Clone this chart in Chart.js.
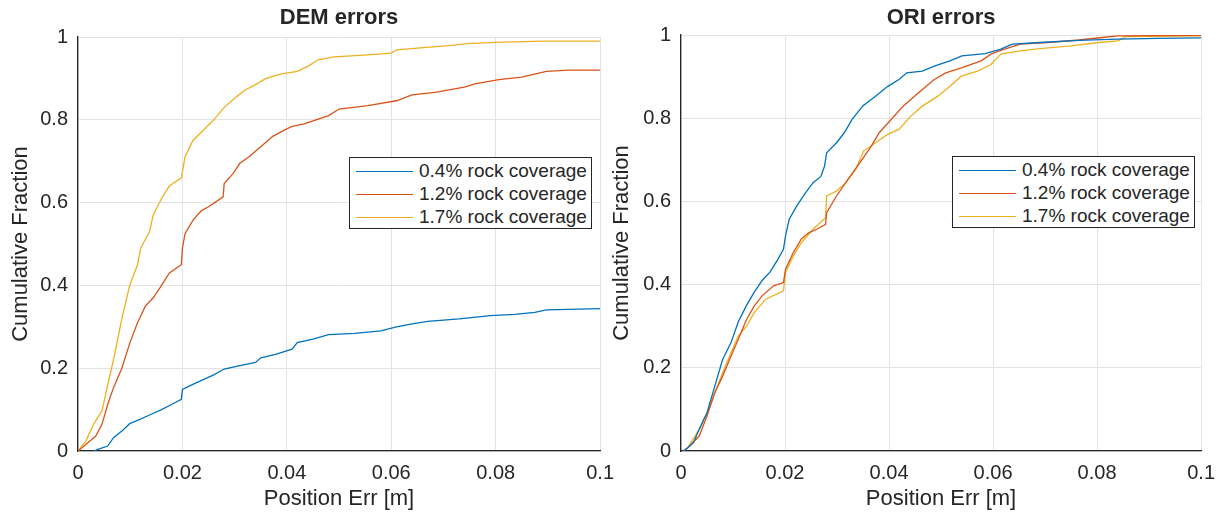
<!DOCTYPE html>
<html>
<head>
<meta charset="utf-8">
<script src="https://cdn.jsdelivr.net/npm/chart.js@4"></script>
<style>
    body { margin: 0; background: #fff; }
    #wrap { position: relative; width: 1225px; height: 514px; overflow: hidden; }
    #wrap canvas { position: absolute; top: 0; }
    .legend { position: absolute; background: #fff; border: 1px solid #262626; box-sizing: border-box;
              font-family: "Liberation Sans", Arial, sans-serif; font-size: 19px; color: #262626; }
    .legend .row { position: absolute; left: 0; height: 22px; line-height: 22px; white-space: nowrap; }
    .legend .swatch { position: absolute; left: 6px; top: 11px; width: 57px; height: 0; border-top: 1.5px solid; }
    .legend .txt { position: absolute; left: 69px; top: 0; }
</style>
</head>
<body>
<div id="wrap">
    <canvas id="demChart"></canvas>
    <canvas id="oriChart"></canvas>
</div>
<script>
// series
const seriesLabels = ['0.4% rock coverage', '1.2% rock coverage', '1.7% rock coverage'];
const seriesColors = ['#0072BD', '#D95319', '#EDB120'];

// axis ticks
const xTicks = [0, 0.02, 0.04, 0.06, 0.08, 0.1];
const xTickLabels = ['0', '0.02', '0.04', '0.06', '0.08', '0.1'];
const yTicks = [0, 0.2, 0.4, 0.6, 0.8, 1];
const yTickLabels = ['0', '0.2', '0.4', '0.6', '0.8', '1'];

// DEM errors
const demX04 = [0.003, 0.0038, 0.0057, 0.0068, 0.0084, 0.0099, 0.0114, 0.0137, 0.016, 0.018, 0.0198, 0.02, 0.022, 0.0243, 0.026, 0.028, 0.031, 0.034, 0.035, 0.038, 0.041, 0.042, 0.045, 0.048, 0.053, 0.058, 0.061, 0.064, 0.067, 0.073, 0.079, 0.0837, 0.0875, 0.0897, 0.1];
const demY04 = [0, 0.004, 0.012, 0.032, 0.048, 0.066, 0.074, 0.087, 0.1, 0.113, 0.125, 0.149, 0.161, 0.174, 0.184, 0.198, 0.206, 0.214, 0.225, 0.234, 0.246, 0.262, 0.27, 0.281, 0.284, 0.29, 0.3, 0.307, 0.313, 0.319, 0.327, 0.33, 0.335, 0.341, 0.344];

const demX12 = [0, 0.0023, 0.0034, 0.0046, 0.0057, 0.0068, 0.0084, 0.0099, 0.0114, 0.0129, 0.0144, 0.016, 0.0175, 0.0198, 0.02, 0.0205, 0.022, 0.0236, 0.025, 0.0278, 0.028, 0.0297, 0.031, 0.0327, 0.035, 0.0373, 0.0395, 0.041, 0.0433, 0.0456, 0.048, 0.05, 0.0555, 0.061, 0.064, 0.0684, 0.074, 0.076, 0.0806, 0.085, 0.0897, 0.094, 0.1];
const demY12 = [0, 0.024, 0.036, 0.065, 0.113, 0.153, 0.2, 0.26, 0.31, 0.35, 0.37, 0.4, 0.43, 0.45, 0.49, 0.525, 0.557, 0.58, 0.59, 0.614, 0.646, 0.67, 0.695, 0.71, 0.735, 0.76, 0.775, 0.784, 0.79, 0.8, 0.81, 0.826, 0.834, 0.846, 0.86, 0.866, 0.879, 0.887, 0.897, 0.903, 0.917, 0.92, 0.92];

const demX17 = [0, 0.0015, 0.003, 0.0046, 0.0057, 0.0068, 0.0084, 0.0099, 0.0114, 0.012, 0.0137, 0.0144, 0.016, 0.0175, 0.0198, 0.0205, 0.022, 0.0236, 0.026, 0.028, 0.0304, 0.032, 0.034, 0.036, 0.039, 0.042, 0.044, 0.046, 0.049, 0.0555, 0.06, 0.061, 0.065, 0.071, 0.0745, 0.08, 0.089, 0.1];
const demY17 = [0, 0.024, 0.065, 0.097, 0.16, 0.22, 0.32, 0.4, 0.45, 0.49, 0.53, 0.57, 0.61, 0.64, 0.66, 0.71, 0.75, 0.77, 0.8, 0.83, 0.856, 0.872, 0.885, 0.9, 0.911, 0.917, 0.929, 0.945, 0.952, 0.957, 0.961, 0.969, 0.973, 0.979, 0.984, 0.987, 0.99, 0.99];

// ORI errors
const oriX04 = [0.0005, 0.0013, 0.0024, 0.0035, 0.005, 0.0065, 0.008, 0.0096, 0.011, 0.0126, 0.014, 0.0156, 0.0171, 0.0186, 0.0197, 0.0201, 0.0208, 0.0223, 0.0239, 0.0254, 0.0269, 0.0276, 0.028, 0.0299, 0.0314, 0.0329, 0.035, 0.0374, 0.0397, 0.0419, 0.0434, 0.0464, 0.0487, 0.0517, 0.054, 0.0585, 0.0615, 0.0637, 0.069, 0.0765, 0.084, 0.0916, 0.1];
const oriY04 = [0, 0.008, 0.02, 0.052, 0.092, 0.156, 0.22, 0.26, 0.31, 0.35, 0.38, 0.41, 0.43, 0.46, 0.485, 0.517, 0.557, 0.59, 0.62, 0.645, 0.66, 0.685, 0.717, 0.741, 0.765, 0.797, 0.83, 0.853, 0.876, 0.893, 0.909, 0.913, 0.925, 0.938, 0.95, 0.955, 0.966, 0.978, 0.982, 0.987, 0.99, 0.992, 0.993];

const oriX12 = [0.0005, 0.0013, 0.0035, 0.005, 0.0065, 0.008, 0.0096, 0.011, 0.0126, 0.0141, 0.0156, 0.0178, 0.0197, 0.0201, 0.0216, 0.0231, 0.0246, 0.0261, 0.0278, 0.028, 0.0299, 0.0321, 0.0344, 0.0366, 0.0381, 0.0404, 0.0427, 0.0449, 0.0464, 0.0487, 0.0509, 0.0539, 0.0577, 0.0596, 0.0615, 0.0652, 0.0705, 0.0765, 0.081, 0.084, 0.1];
const oriY12 = [0, 0.008, 0.036, 0.084, 0.14, 0.18, 0.228, 0.268, 0.316, 0.349, 0.373, 0.397, 0.405, 0.437, 0.477, 0.509, 0.525, 0.533, 0.545, 0.573, 0.613, 0.653, 0.693, 0.733, 0.765, 0.797, 0.829, 0.853, 0.869, 0.893, 0.909, 0.921, 0.938, 0.954, 0.963, 0.978, 0.982, 0.988, 0.994, 0.998, 0.999];

const oriX17 = [0.0005, 0.0013, 0.0035, 0.005, 0.0065, 0.008, 0.0096, 0.011, 0.0126, 0.0141, 0.0163, 0.0197, 0.0201, 0.0216, 0.0231, 0.0254, 0.0278, 0.028, 0.0299, 0.0314, 0.0336, 0.0351, 0.0374, 0.0397, 0.0419, 0.0442, 0.0464, 0.0494, 0.0517, 0.0539, 0.057, 0.0596, 0.0615, 0.0652, 0.069, 0.075, 0.0803, 0.084, 0.0856, 0.1];
const oriY17 = [0, 0.008, 0.052, 0.092, 0.14, 0.188, 0.236, 0.276, 0.3, 0.333, 0.365, 0.385, 0.429, 0.469, 0.5, 0.533, 0.561, 0.613, 0.625, 0.641, 0.677, 0.721, 0.741, 0.761, 0.773, 0.805, 0.829, 0.853, 0.877, 0.901, 0.913, 0.929, 0.954, 0.962, 0.967, 0.974, 0.982, 0.986, 0.996, 0.998];

const FONT = '"Liberation Sans", Arial, sans-serif';
const INK = '#262626';

function toPoints(xs, ys) {
    const n = Math.min(xs.length, ys.length);
    const pts = [];
    for (let i = 0; i < n; i++) pts.push({ x: xs[i], y: ys[i] });
    return pts;
}

function buildDatasets(pairs) {
    return pairs.map((p, i) => ({
        label: seriesLabels[i],
        data: toPoints(p[0], p[1]),
        borderColor: seriesColors[i],
        backgroundColor: seriesColors[i],
        borderWidth: 1.3,
        pointRadius: 0,
        fill: false,
        tension: 0
    }));
}

function makeChart(canvasId, canvasLeft, canvasWidth, titleText, datasets, opts) {
    const canvas = document.getElementById(canvasId);
    canvas.style.left = canvasLeft + 'px';
    canvas.style.width = canvasWidth + 'px';
    canvas.style.height = '514px';
    canvas.width = canvasWidth;
    canvas.height = 514;

    return new Chart(canvas.getContext('2d'), {
        type: 'line',
        data: { datasets: datasets },
        options: {
            responsive: false,
            animation: false,
            layout: { padding: { left: 0, right: opts.padRight, top: 0, bottom: 0 } },
            plugins: {
                legend: { display: false },
                tooltip: { enabled: false },
                title: {
                    display: true,
                    text: titleText,
                    color: INK,
                    fullSize: false,
                    font: { family: FONT, size: 22, weight: 'bold', lineHeight: 1.2 },
                    padding: { top: 5, bottom: opts.titleBottom }
                }
            },
            scales: {
                x: {
                    type: 'linear',
                    min: 0,
                    max: 0.1,
                    afterBuildTicks: axis => { axis.ticks = xTicks.map(v => ({ value: v })); },
                    afterFit: axis => { axis.height = 63; },
                    ticks: {
                        color: INK,
                        padding: 10,
                        maxRotation: 0,
                        font: { family: FONT, size: 20 },
                        callback: (value, index) => xTickLabels[index]
                    },
                    grid: { color: '#e3e3e3', drawTicks: false },
                    border: { color: INK, width: 1.3 },
                    title: {
                        display: true,
                        text: 'Position Err [m]',
                        color: INK,
                        font: { family: FONT, size: 22 },
                        padding: { top: 0, bottom: 2 }
                    }
                },
                y: {
                    type: 'linear',
                    min: 0,
                    max: 1,
                    afterBuildTicks: axis => { axis.ticks = yTicks.map(v => ({ value: v })); },
                    afterFit: axis => { axis.width = opts.yWidth; },
                    ticks: {
                        color: INK,
                        padding: 10,
                        font: { family: FONT, size: 20 },
                        callback: (value, index) => yTickLabels[index]
                    },
                    grid: { color: '#e3e3e3', drawTicks: false },
                    border: { color: INK, width: 1.3 },
                    title: {
                        display: true,
                        text: 'Cumulative Fraction',
                        color: INK,
                        font: { family: FONT, size: 22 },
                        padding: { top: opts.yTitlePad, bottom: 0 }
                    }
                }
            }
        }
    });
}

function makeLegend(left, top) {
    const box = document.createElement('div');
    box.className = 'legend';
    box.style.left = left + 'px';
    box.style.top = top + 'px';
    box.style.width = '243px';
    box.style.height = '72px';
    seriesLabels.forEach((label, i) => {
        const row = document.createElement('div');
        row.className = 'row';
        row.style.top = (2 + i * 23) + 'px';
        row.style.width = '100%';
        const sw = document.createElement('span');
        sw.className = 'swatch';
        sw.style.borderTopColor = seriesColors[i];
        const tx = document.createElement('span');
        tx.className = 'txt';
        tx.textContent = label;
        row.appendChild(sw);
        row.appendChild(tx);
        box.appendChild(row);
    });
    document.getElementById('wrap').appendChild(box);
}

makeChart('demChart', 0, 624, 'DEM errors',
    buildDatasets([[demX04, demY04], [demX12, demY12], [demX17, demY17]]),
    { padRight: 21, yWidth: 78, yTitlePad: 8, titleBottom: 5.6 });

makeChart('oriChart', 606, 619, 'ORI errors',
    buildDatasets([[oriX04, oriY04], [oriX12, oriY12], [oriX17, oriY17]]),
    { padRight: 21, yWidth: 75, yTitlePad: 3, titleBottom: 3.6 });

makeLegend(349, 157);
makeLegend(952, 156);
</script>
</body>
</html>
